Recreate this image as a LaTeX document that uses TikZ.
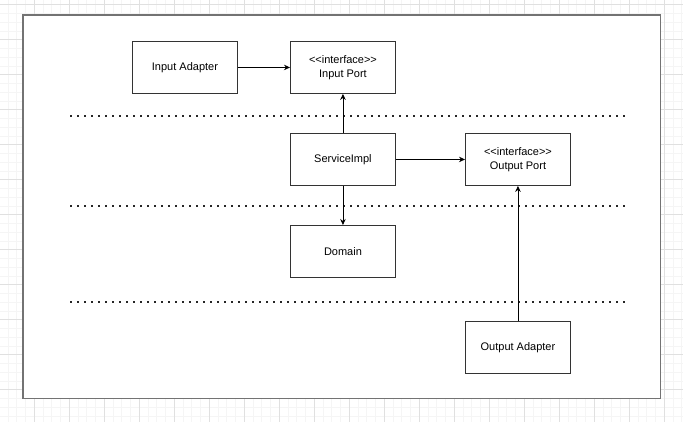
\documentclass[tikz,border=0pt]{standalone}
\usepackage{fontspec}
\setmainfont{Liberation Sans}
\usetikzlibrary{arrows.meta}
\begin{document}
\begin{tikzpicture}[x=1pt,y=-1pt,
  minorgrid/.style={draw=black!4,line width=0.8pt},
  majorgrid/.style={draw=black!12,line width=0.8pt},
  boxnode/.style={draw=black!80,line width=0.9pt,fill=white,minimum width=105pt,minimum height=52pt,inner sep=0pt,align=center,font=\fontsize{11}{13.5}\selectfont,anchor=north west},
  arr/.style={draw=black,line width=0.9pt,-{Stealth[length=6pt,width=5.5pt]}},
  sep/.style={draw=black!85,line width=1.8pt,dash pattern=on 1.8pt off 5.2pt}]
\useasboundingbox (0,0) rectangle (683,422);
\fill[white] (0,0) rectangle (683,422);
\begin{scope}
\clip (0,0) rectangle (683,422);
\foreach \i in {0,...,79} {
  \draw[minorgrid] ({-0.7+8.75*\i},0) -- ({-0.7+8.75*\i},422);
}
\foreach \i in {0,...,48} {
  \draw[minorgrid] (0,{4.7+8.75*\i-8.75}) -- (683,{4.7+8.75*\i-8.75});
}
\foreach \i in {0,...,20} {
  \draw[majorgrid] ({-0.7+35*\i},0) -- ({-0.7+35*\i},422);
}
\foreach \i in {0,...,12} {
  \draw[majorgrid] (0,{4.7+35*\i}) -- (683,{4.7+35*\i});
}
\end{scope}
\draw[fill=white,draw=black!55,line width=1.6pt] (22.7,15) rectangle (660.5,398.5);

\node[boxnode] (ia) at (132,41) {Input Adapter};
\node[boxnode] (ip) at (290,41) {{<}{<}interface{>}{>}\\Input Port};
\node[boxnode] (si) at (290,133) {ServiceImpl};
\node[boxnode] (op) at (465,133) {{<}{<}interface{>}{>}\\Output Port};
\node[boxnode] (dm) at (290,225) {Domain};
\node[boxnode] (oa) at (465,321) {Output Adapter};

\draw[sep] (70,116) -- (628,116);
\draw[sep] (70,206) -- (628,206);
\draw[sep] (70,302) -- (628,302);

\draw[arr] (ia) -- (ip);
\draw[arr] (si) -- (ip);
\draw[arr] (si) -- (op);
\draw[arr] (si) -- (dm);
\draw[arr] (oa) -- (op);
\end{tikzpicture}
\end{document}
